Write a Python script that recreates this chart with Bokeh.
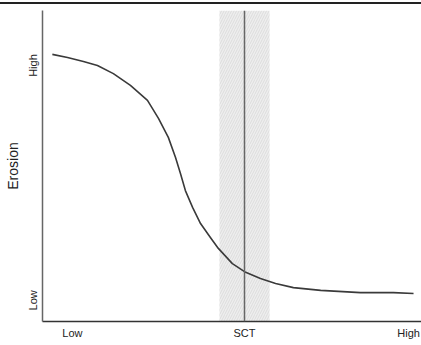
from bokeh.plotting import figure
from bokeh.models import FixedTicker, Span, Range1d
from bokeh.embed import file_html
from bokeh.resources import INLINE

# Data (arbitrary units)
curve_x = [0.26, 0.66, 1.08, 1.45, 1.87, 2.32, 2.77, 3.06, 3.32, 3.51, 3.64,
           3.77, 3.96, 4.17, 4.43, 4.64, 5.01, 5.36, 5.75, 6.15, 6.62, 7.34,
           8.39, 9.26, 9.79]
curve_y = [8.59, 8.49, 8.36, 8.23, 7.97, 7.59, 7.11, 6.53, 5.92, 5.27, 4.76,
           4.21, 3.67, 3.15, 2.70, 2.35, 1.86, 1.58, 1.38, 1.22, 1.09, 1.00,
           0.93, 0.93, 0.90]
sct_value = 5.33
sct_band = [4.67, 5.99]
x_tick_pos = [0.79, 5.33, 9.66]
x_tick_labels = ["Low", "SCT", "High"]
y_tick_pos = [0.68, 8.23]
y_tick_labels = ["Low", "High"]

FONT = "Liberation Sans"

p = figure(width=421, height=340, output_backend="svg", toolbar_location=None,
           x_range=Range1d(0, 10.0), y_range=Range1d(0, 10.0),
           min_border_left=42, min_border_right=0, min_border_top=6,
           min_border_bottom=23)
p.styles = {"border-top": "2px solid #222", "margin-top": "2px"}
p.outline_line_color = None
p.grid.visible = False

# shaded band
p.quad(left=[sct_band[0]], right=[sct_band[1]], bottom=[0], top=[10],
       fill_color="#eeeeee", line_color=None,
       hatch_pattern="/", hatch_color="#d8d8d8", hatch_scale=5, hatch_weight=0.8)

p.add_layout(Span(location=sct_value, dimension="height", line_color="#666666",
                  line_width=1.5))

p.line(curve_x, curve_y, line_color="#3a3a3a", line_width=1.6,
       line_join="round")

# axes
p.xaxis.ticker = FixedTicker(ticks=x_tick_pos)
p.xaxis.major_label_overrides = {v: t for v, t in zip(x_tick_pos, x_tick_labels)}
p.yaxis.ticker = FixedTicker(ticks=y_tick_pos)
p.yaxis.major_label_overrides = {v: t for v, t in zip(y_tick_pos, y_tick_labels)}
p.yaxis.major_label_orientation = "vertical"
p.yaxis.axis_label = "Erosion"
p.yaxis.axis_label_text_font_style = "normal"
p.yaxis.axis_label_text_font = FONT
p.yaxis.axis_label_text_font_size = "14px"
p.yaxis.axis_label_text_color = "#222222"
p.yaxis.axis_label_standoff = 4

for ax in (p.xaxis, p.yaxis):
    ax.major_tick_line_color = None
    ax.minor_tick_line_color = None
    ax.major_tick_out = 0
    ax.major_tick_in = 0
    ax.minor_tick_out = 0
    ax.minor_tick_in = 0
    ax.major_label_text_font = FONT
    ax.major_label_text_font_size = "11px"
    ax.major_label_text_color = "#222222"
    ax.axis_line_width = 1.5

p.yaxis.axis_line_color = "#666666"
p.xaxis.axis_line_color = "#333333"
p.xaxis.major_label_standoff = 5
p.yaxis.major_label_standoff = 3

open("out.html", "w").write(file_html(p, INLINE))
